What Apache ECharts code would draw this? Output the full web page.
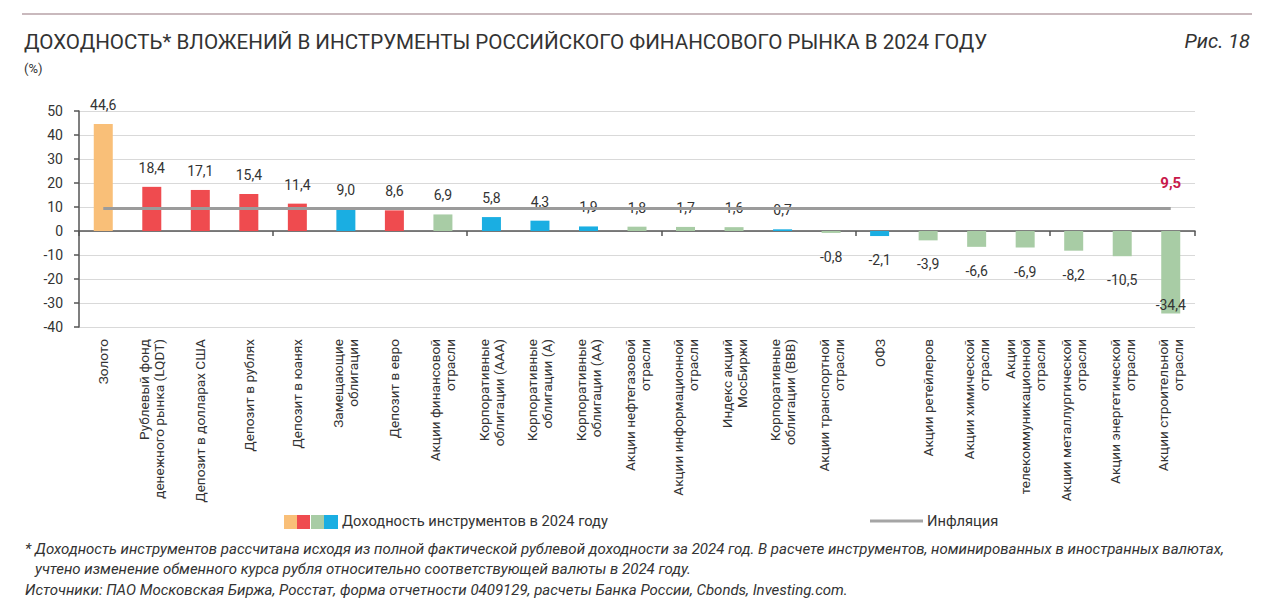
<!DOCTYPE html>
<html>
<head>
<meta charset="utf-8">
<script src="https://cdn.jsdelivr.net/npm/echarts@6/dist/echarts.min.js"></script>
<style>
html,body{margin:0;padding:0;background:#fff;}
#chart{width:1280px;height:612px;}
</style>
</head>
<body>
<div id="chart"></div>
<script>
// ---- data ----
const categories = [
  'Золото',
  'Рублевый фонд\nденежного рынка (LQDT)',
  'Депозит в долларах США',
  'Депозит в рублях',
  'Депозит в юанях',
  'Замещающие\nоблигации',
  'Депозит в евро',
  'Акции финансовой\nотрасли',
  'Корпоративные\nоблигации (ААА)',
  'Корпоративные\nоблигации (А)',
  'Корпоративные\nоблигации (АА)',
  'Акции нефтегазовой\nотрасли',
  'Акции информационной\nотрасли',
  'Индекс акций\nМосБиржи',
  'Корпоративные\nоблигации (ВВВ)',
  'Акции транспортной\nотрасли',
  'ОФЗ',
  'Акции ретейлеров',
  'Акции химической\nотрасли',
  'Акции\nтелекоммуникационной\nотрасли',
  'Акции металлургической\nотрасли',
  'Акции энергетической\nотрасли',
  'Акции строительной\nотрасли'
];
const returns2024 = [44.6, 18.4, 17.1, 15.4, 11.4, 9.0, 8.6, 6.9, 5.8, 4.3, 1.9, 1.8, 1.7, 1.6, 0.7, -0.8, -2.1, -3.9, -6.6, -6.9, -8.2, -10.5, -34.4];
const groups = ['gold','deposit','deposit','deposit','deposit','bond','deposit','stock','bond','bond','bond','stock','stock','stock','bond','stock','bond','stock','stock','stock','stock','stock','stock'];
const inflation = 9.5;
const yTicks = {min: -40, max: 50, interval: 10};

// ---- styles ----
const palette = {gold: '#F9BF78', deposit: '#EF4B4F', stock: '#A8CCA5', bond: '#1AAEE2'};
const FONT = 'Roboto, "Noto Sans", sans-serif';
const fmt = v => v.toFixed(1).replace('.', ',');

const barData = returns2024.map((v, i) => {
  let label;
  if (v >= 0) label = {position: 'top', distance: 12};
  else if (v < -20) label = {position: 'insideBottom', distance: 2};
  else label = {position: 'bottom', distance: 17};
  return {value: v, itemStyle: {color: palette[groups[i]]}, label: label};
});

const chart = echarts.init(document.getElementById('chart'), null, {renderer: 'svg'});
chart.setOption({
  backgroundColor: '#fff',
  animation: false,
  textStyle: {fontFamily: FONT},
  grid: {left: 79, right: 85, top: 111, bottom: 285, containLabel: false},
  xAxis: [
    {
      type: 'category', data: categories,
      axisLine: {onZero: true, lineStyle: {color: '#555', width: 1.5}},
      axisTick: {show: true, length: 5, lineStyle: {color: '#555', width: 1.5}},
      axisLabel: {show: false},
      splitLine: {show: false}
    },
    {
      type: 'category', data: categories, position: 'bottom',
      axisLine: {show: false, onZero: false},
      axisTick: {show: false},
      axisLabel: {show: true, rotate: 90, interval: 0, margin: 12, fontSize: 13.6, lineHeight: 15, color: '#333', fontFamily: FONT},
      splitLine: {show: false}
    }
  ],
  yAxis: {
    type: 'value', min: yTicks.min, max: yTicks.max, interval: yTicks.interval,
    axisLine: {show: true, lineStyle: {color: '#555', width: 1.5}},
    axisTick: {show: true, length: 5, lineStyle: {color: '#555', width: 1.5}},
    axisLabel: {fontSize: 14, color: '#333', margin: 16, fontFamily: FONT},
    splitLine: {show: true, lineStyle: {color: '#d9d9d9', width: 1}}
  },
  series: [
    {
      type: 'bar', xAxisIndex: 0, data: barData, barWidth: 19, z: 2,
      label: {show: true, fontSize: 14, color: '#333', fontFamily: FONT, formatter: p => fmt(p.value)}
    },
    {
      type: 'line', xAxisIndex: 0, data: [], z: 5,
      markLine: {
        silent: true, symbol: ['none', 'none'],
        lineStyle: {color: '#9b9b9b', width: 3, type: 'solid'},
        label: {show: false},
        data: [[{xAxis: categories[0], yAxis: inflation}, {xAxis: categories[categories.length - 1], yAxis: inflation}]]
      },
      markPoint: {
        symbol: 'circle', symbolSize: 0,
        label: {show: true, position: 'top', distance: 18, color: '#C8194A', fontWeight: 'bold', fontSize: 15, fontFamily: FONT, formatter: () => fmt(inflation)},
        data: [{coord: [categories[categories.length - 1], inflation]}]
      }
    }
  ],
  graphic: [
    {type: 'line', shape: {x1: 22, y1: 14, x2: 1252, y2: 14}, style: {stroke: '#c9b9bd', lineWidth: 2}},
    {type: 'text', left: 24, top: 31, style: {text: 'ДОХОДНОСТЬ* ВЛОЖЕНИЙ В ИНСТРУМЕНТЫ РОССИЙСКОГО ФИНАНСОВОГО РЫНКА В 2024 ГОДУ', fontSize: 20.6, fontFamily: FONT, fill: '#333'}},
    {type: 'text', right: 30, top: 31, style: {text: 'Рис. 18', fontSize: 20, fontStyle: 'italic', fontFamily: FONT, fill: '#333'}},
    {type: 'text', left: 24, top: 62, style: {text: '(%)', fontSize: 13, fontFamily: FONT, fill: '#333'}},
    // legend: bars
    {type: 'rect', shape: {x: 284, y: 515, width: 13, height: 14}, style: {fill: palette.gold}},
    {type: 'rect', shape: {x: 297, y: 515, width: 13, height: 14}, style: {fill: palette.deposit}},
    {type: 'rect', shape: {x: 311, y: 515, width: 13, height: 14}, style: {fill: palette.stock}},
    {type: 'rect', shape: {x: 324, y: 515, width: 14, height: 14}, style: {fill: palette.bond}},
    {type: 'text', left: 342, top: 513, style: {text: 'Доходность инструментов в 2024 году', fontSize: 14.7, fontFamily: FONT, fill: '#333'}},
    // legend: inflation
    {type: 'line', shape: {x1: 870, y1: 521, x2: 923, y2: 521}, style: {stroke: '#a5a5a5', lineWidth: 3}},
    {type: 'text', left: 927, top: 513, style: {text: 'Инфляция', fontSize: 14.7, fontFamily: FONT, fill: '#333'}},
    // footnotes
    {type: 'text', left: 25, top: 541, style: {text: '* Доходность инструментов рассчитана исходя из полной фактической рублевой доходности за 2024 год. В расчете инструментов, номинированных в иностранных валютах,', fontSize: 15, fontStyle: 'italic', fontFamily: FONT, fill: '#333'}},
    {type: 'text', left: 35, top: 561, style: {text: 'учтено изменение обменного курса рубля относительно соответствующей валюты в 2024 году.', fontSize: 15, fontStyle: 'italic', fontFamily: FONT, fill: '#333'}},
    {type: 'text', left: 25, top: 582, style: {text: 'Источники: ПАО Московская Биржа, Росстат, форма отчетности 0409129, расчеты Банка России, Cbonds, Investing.com.', fontSize: 15, fontStyle: 'italic', fontFamily: FONT, fill: '#333'}}
  ]
});
</script>
</body>
</html>
